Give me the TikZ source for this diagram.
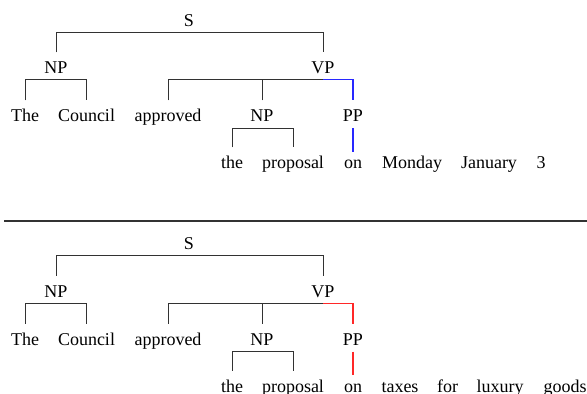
\documentclass[tikz,border=0pt]{standalone}
\usepackage{fontspec}
\setmainfont{Liberation Serif}
\definecolor{attblue}{RGB}{40,40,255}
\definecolor{attred}{RGB}{255,40,40}
\definecolor{linegray}{RGB}{50,50,50}
\tikzset{
  lab/.style={anchor=base, inner sep=0pt, text height=12pt, text depth=0pt,
              font=\fontsize{18}{20}\selectfont},
  br/.style={draw=linegray, line width=0.9pt},
  att/.style={line width=1.1pt},
}
\newcommand\mytree[3]{%
\begin{scope}[shift={(0,#2)}]
  \node[lab] (#1S) at (189,26) {S};
  \node[lab] (#1NPa) at (56,73.5) {NP};
  \node[lab] (#1VP) at (323,73.5) {VP};
  \node[lab] (#1The) at (25,121.5) {The};
  \node[lab] (#1Council) at (86.5,121.5) {Council};
  \node[lab] (#1appr) at (168,121.5) {approved};
  \node[lab] (#1NPb) at (262,121.5) {NP};
  \node[lab] (#1PP) at (353,121.5) {PP};
  \node[lab] (#1the) at (232,168.5) {the};
  \node[lab] (#1prop) at (293,168.5) {proposal};
  \node[lab] (#1on) at (353,168.5) {on};
  \draw[br] ([yshift=9pt]#1NPa.north) |- ([yshift=-6pt]#1S.south) -| ([yshift=9pt]#1VP.north);
  \draw[br] ([yshift=9pt]#1The.north) |- ([yshift=-6pt]#1NPa.south) -| ([yshift=9pt]#1Council.north);
  \draw[br] ([yshift=9pt]#1appr.north) |- ([yshift=-6pt]#1VP.south);
  \draw[br] ([yshift=9pt]#1NPb.north) |- ([yshift=-6pt]#1VP.south);
  \draw[br] ([yshift=9pt]#1the.north) |- ([yshift=-6.5pt]#1NPb.south) -| ([yshift=9pt]#1prop.north);
  \draw[att, color=#3] ([yshift=-6pt]#1VP.south) -| ([yshift=9pt]#1PP.north);
  \draw[att, color=#3] ([yshift=-6.5pt]#1PP.south) -- ([yshift=4.5pt]#1on.north);
\end{scope}}
\begin{document}
\begin{tikzpicture}[x=1pt, y=-1pt]
  \useasboundingbox (0,0) rectangle (587,394);
  \mytree{a}{0}{attblue}
  \node[lab] (aMonday) at (412,168.5) {Monday};
  \node[lab] (aJanuary) at (489,168.5) {January};
  \node[lab] (a3) at (541,168.5) {3};
  \draw[draw=linegray, line width=1.2pt] (4,221) -- (587,221);
  \mytree{b}{223.5}{attred}
  \node[lab] (btaxes) at (400,392) {taxes};
  \node[lab] (bfor) at (447.5,392) {for};
  \node[lab] (bluxury) at (500,392) {luxury};
  \node[lab] (bgoods) at (565,392) {goods};
\end{tikzpicture}
\end{document}
